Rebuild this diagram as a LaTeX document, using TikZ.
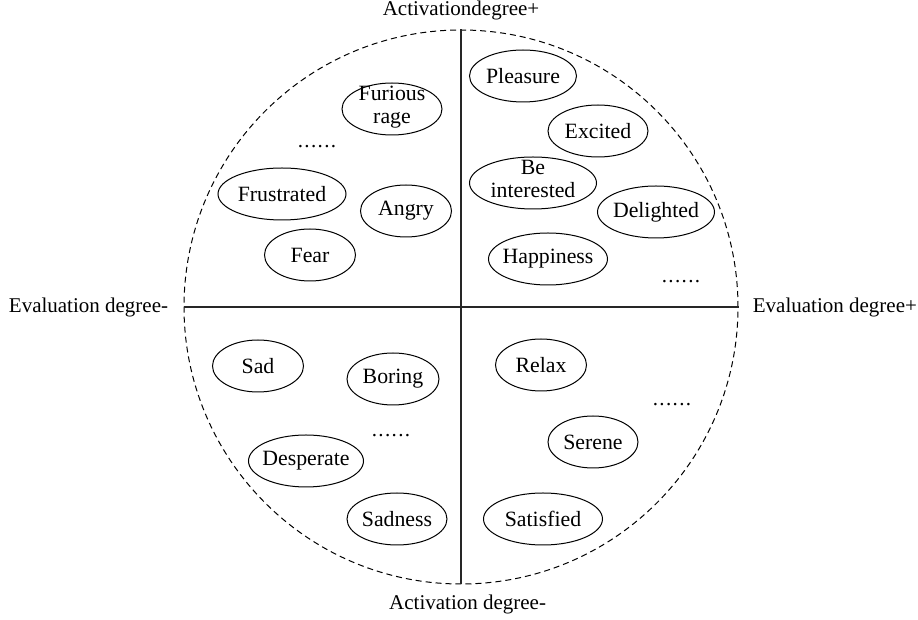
\documentclass[tikz,border=0pt]{standalone}
\usepackage{fontspec}
\setmainfont{Liberation Serif}
\usetikzlibrary{shapes.geometric,positioning}

% one- and two-line texts that do not size the ellipse
\newcommand{\onel}[1]{\makebox[0pt]{#1}}
\newcommand{\twol}[2]{\makebox[0pt]{\raisebox{-2pt}[0pt][0pt]{\begin{tabular}{@{}c@{}}#1\\#2\end{tabular}}}}
\newcommand{\etc}{.\kern0.7pt.\kern0.7pt.\kern0.7pt.\kern0.7pt.\kern0.7pt.}

\begin{document}
\begin{tikzpicture}[
		x=0.5pt,y=-0.5pt,
		font=\fontsize{10.5}{11.5}\selectfont,
		emo/.style={
			draw=black,
			line width=0.5pt,
			ellipse,
			inner sep=0pt,
			minimum height=26pt,
			minimum width=#1,
			font=\fontsize{10.9}{11.5}\selectfont
		},
		ring/.style={
			draw=black,
			line width=0.5pt,
			dash pattern=on 3pt off 2pt,
			circle,
			inner sep=0pt,
			minimum size=277pt
		},
		axis/.style={draw=black!85, line width=0.75pt},
		caption/.style={inner sep=0pt},
		more/.style={inner sep=0pt}
		]
		\useasboundingbox (0,0) rectangle (918,620);
		
		% Dashed ring and the two axes
		\node[ring] (R) at (461,307) {};
		\draw[axis] (R.west) -- (R.east);
		\draw[axis] (R.north) -- (R.south);
		
		% Axis captions
		\node[caption, left=7.5pt of R.west] (evalneg) {Evaluation degree-};
		\node[caption, right=7pt of R.east] (evalpos) {Evaluation degree+};
		\node[caption, above=4.5pt of R.north] (actpos) {Activationdegree+};
		\node[caption, below=5pt of R.south, xshift=3.3pt] (actneg) {Activation degree-};
		
		% Upper left quarter
		\node[emo=50pt] (furious) at (392,109) {\twol{Furious}{rage}};
		\node[emo=64pt] (frustrated) at (282,194) {\onel{Frustrated}};
		\node[emo=45.5pt] (angry) at (406,211) {\onel{Angry}};
		\node[emo=45.5pt] (fear) at (310,255) {\onel{Fear}};
		\node[more] (moreUL) at (317,147) {\etc};
		
		% Upper right quarter
		\node[emo=53.5pt] (pleasure) at (523,76) {\onel{Pleasure}};
		\node[emo=50pt] (excited) at (598,131) {\onel{Excited}};
		\node[emo=63.5pt] (interested) at (533,183) {\twol{Be}{interested}};
		\node[emo=58.5pt] (delighted) at (656,212) {\onel{Delighted}};
		\node[emo=59.5pt] (happiness) at (548,259) {\onel{Happiness}};
		\node[more] (moreUR) at (681,282) {\etc};
		
		% Lower left quarter
		\node[emo=45.5pt] (sad) at (258,366) {\onel{Sad}};
		\node[emo=46pt] (boring) at (393,379) {\onel{Boring}};
		\node[emo=57.5pt] (desperate) at (306,461) {\onel{Desperate}};
		\node[emo=50pt] (sadness) at (397,519) {\onel{Sadness}};
		\node[more] (moreLL) at (391,436) {\etc};
		
		% Lower right quarter
		\node[emo=45.5pt] (relax) at (541,365) {\onel{Relax}};
		\node[emo=45pt] (serene) at (593,442) {\onel{Serene}};
		\node[emo=59.5pt] (satisfied) at (543,519) {\onel{Satisfied}};
		\node[more] (moreLR) at (672,405) {\etc};
	\end{tikzpicture}
\end{document}
